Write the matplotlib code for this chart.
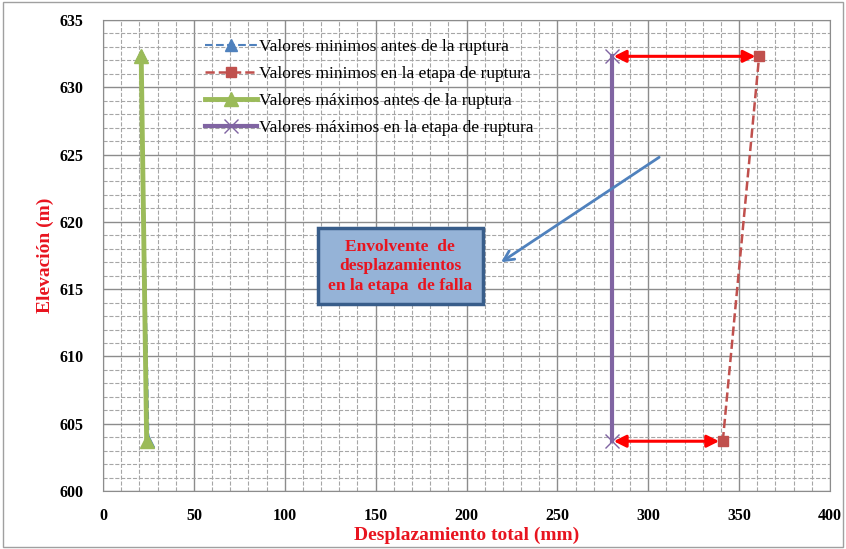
import matplotlib.pyplot as plt
from matplotlib.patches import Rectangle
from matplotlib.ticker import MultipleLocator

plt.rcParams['font.family'] = ['Liberation Serif', 'DejaVu Serif']

# data
elev = [603.7, 632.3]
min_antes = [25, 21]
min_ruptura = [341, 361]
max_antes = [24, 21]
max_ruptura = [280, 280]

labels = ["Valores minimos antes de la ruptura",
          "Valores minimos en la etapa de ruptura",
          "Valores máximos antes de la ruptura",
          "Valores máximos en la etapa de ruptura"]

fig = plt.figure(figsize=(8.46, 5.49), dpi=100)
ax = fig.add_axes([0.1218, 0.1056, 0.8593, 0.858])

fig.patches.append(Rectangle((0.003, 0.003), 0.994, 0.994, transform=fig.transFigure,
                             fill=False, edgecolor='#a0a0a0', lw=1))

ax.plot(min_antes, elev, '--', color='#4F81BD', marker='^', ms=8, lw=1.5, label=labels[0], zorder=3)
ax.plot(min_ruptura, elev, '--', color='#C0504D', marker='s', ms=7, lw=1.8, label=labels[1], zorder=3)
ax.plot(max_antes, elev, '-', color='#9BBB59', marker='^', ms=10, lw=3.5, label=labels[2], zorder=4)
ax.plot(max_ruptura, elev, '-', color='#8064A2', marker='x', ms=10, mew=1, lw=3, label=labels[3], zorder=3)

# red double arrows
for i in range(2):
    ax.annotate('', xy=(min_ruptura[i] - 2, elev[i]), xytext=(max_ruptura[i] + 1, elev[i]),
                arrowprops=dict(arrowstyle='<|-|>', color='#FF0000', lw=2.2,
                                mutation_scale=18, shrinkA=0, shrinkB=0), zorder=5)

# blue arrow to the textbox
ax.annotate('', xy=(219, 617.0), xytext=(306, 624.8),
            arrowprops=dict(arrowstyle='->', color='#4F81BD', lw=2, mutation_scale=18,
                            shrinkA=0, shrinkB=0))

ax.text(163.5, 616.7, "Envolvente  de\ndesplazamientos\nen la etapa  de falla",
        ha='center', va='center', color='#E8141F', fontweight='bold', fontsize=12.5,
        linespacing=1.3,
        bbox=dict(boxstyle='square,pad=0.6', facecolor='#95B3D7', edgecolor='#385D8A', lw=2.5))

ax.set_xlim(0, 400)
ax.set_ylim(600, 635)
ax.xaxis.set_major_locator(MultipleLocator(50))
ax.xaxis.set_minor_locator(MultipleLocator(10))
ax.yaxis.set_major_locator(MultipleLocator(5))
ax.yaxis.set_minor_locator(MultipleLocator(1))
ax.grid(which='major', color='#8c8c8c', lw=1)
ax.grid(which='minor', color='#a6a6a6', lw=0.8, ls='--')
ax.set_axisbelow(True)
ax.tick_params(which='both', length=0)
ax.tick_params(axis='x', pad=12)
ax.tick_params(axis='y', pad=14)
for t in ax.get_xticklabels() + ax.get_yticklabels():
    t.set_fontweight('bold')
    t.set_fontsize(11.5)
for s in ax.spines.values():
    s.set_color('#8c8c8c')

ax.set_xlabel("Desplazamiento total (mm)", color='#E8141F', fontweight='bold', fontsize=14, labelpad=2)
ax.set_ylabel("Elevación (m)", color='#E8141F', fontweight='bold', fontsize=14, labelpad=4)

ax.legend(loc='upper left', bbox_to_anchor=(0.123, 0.985), frameon=False, fontsize=12.5,
          handlelength=3.0, handletextpad=0.15, labelspacing=0.62, borderaxespad=0.3)

fig.savefig("out.png", dpi=100)
